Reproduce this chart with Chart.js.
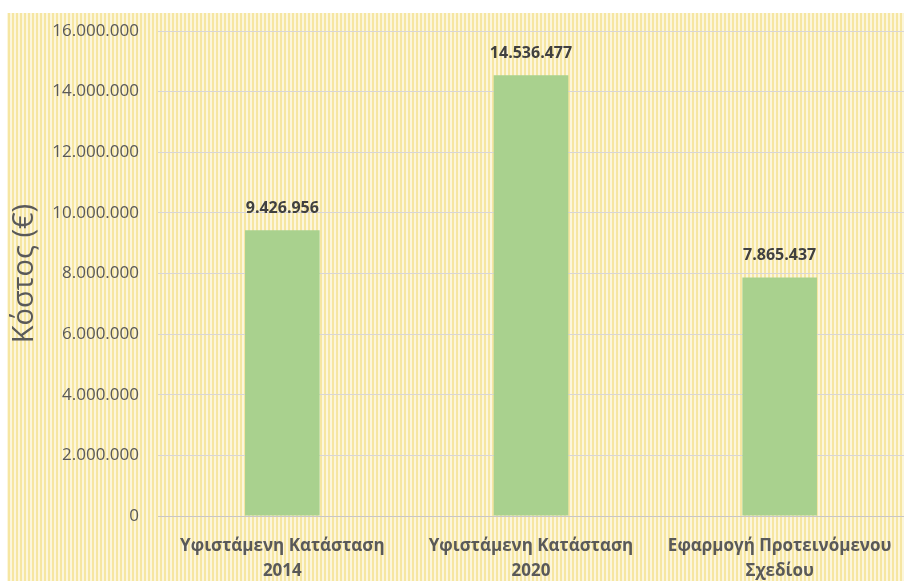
<!DOCTYPE html>
<html>
<head>
<meta charset="utf-8">
<script src="https://cdn.jsdelivr.net/npm/chart.js@4"></script>
<style>
  body { margin: 0; background: #fff; }
  canvas { display: block; }
</style>
</head>
<body>
<canvas id="costChart" width="904" height="581"></canvas>
<script>
// Categories (two-line labels) and values
const categories = [
    ['Υφιστάμενη Κατάσταση', '2014'],
    ['Υφιστάμενη Κατάσταση', '2020'],
    ['Εφαρμογή Προτεινόμενου', 'Σχεδίου']
];
const costValues = [9426956, 14536477, 7865437];
const yTicks = [0, 2000000, 4000000, 6000000, 8000000, 10000000, 12000000, 14000000, 16000000];

const fontFamily = '"Open Sans", Lato, sans-serif';

// Greek style thousands separator (dots)
function formatNumber(v) {
    return String(Math.round(v)).replace(/\B(?=(\d{3})+(?!\d))/g, '.');
}

// Striped yellow background like the original
function makeStripes(ctx) {
    const tile = document.createElement('canvas');
    tile.width = 4;
    tile.height = 4;
    const t = tile.getContext('2d');
    t.fillStyle = '#fcf6dc';
    t.fillRect(0, 0, 4, 4);
    t.fillStyle = '#f6e6a2';
    t.fillRect(0, 0, 2, 4);
    return ctx.createPattern(tile, 'repeat');
}

const backgroundPlugin = {
    id: 'stripes',
    beforeDraw(chart) {
        const ctx = chart.ctx;
        ctx.save();
        ctx.fillStyle = '#ffffff';
        ctx.fillRect(0, 0, chart.width, chart.height);
        ctx.fillStyle = makeStripes(ctx);
        ctx.fillRect(7, 13, chart.width - 7, chart.height - 13);
        ctx.restore();
    }
};

// Value labels above each bar
const valueLabels = {
    id: 'valueLabels',
    afterDatasetsDraw(chart) {
        const ctx = chart.ctx;
        const meta = chart.getDatasetMeta(0);
        ctx.save();
        ctx.font = 'bold 16px ' + fontFamily;
        ctx.fillStyle = '#404040';
        ctx.textAlign = 'center';
        ctx.textBaseline = 'middle';
        meta.data.forEach((bar, i) => {
            ctx.fillText(formatNumber(costValues[i]), bar.x, bar.y - 22);
        });
        ctx.restore();
    }
};

new Chart(document.getElementById('costChart'), {
    type: 'bar',
    data: {
        labels: categories,
        datasets: [{
            data: costValues,
            backgroundColor: '#a9d18e',
            barPercentage: 0.3,
            categoryPercentage: 1
        }]
    },
    options: {
        responsive: false,
        animation: false,
        layout: { padding: { top: 31, right: 0, left: 0, bottom: 0 } },
        plugins: {
            legend: { display: false },
            tooltip: { enabled: false }
        },
        scales: {
            x: {
                grid: { display: false, drawTicks: false },
                border: { color: '#c9c6c6', width: 1 },
                ticks: {
                    color: '#595959',
                    font: { family: fontFamily, size: 17, weight: 'bold', lineHeight: 1.45 },
                    padding: 18,
                    maxRotation: 0,
                    autoSkip: false
                },
                afterFit(scale) {
                    scale.height = 65;
                    scale.paddingLeft = 0;
                    scale.paddingRight = 0;
                }
            },
            y: {
                min: 0,
                max: 16000000,
                afterBuildTicks(scale) {
                    scale.ticks = yTicks.map(v => ({ value: v }));
                },
                grid: { color: '#d9d6d6', drawTicks: false },
                border: { display: false },
                ticks: {
                    color: '#595959',
                    font: { family: fontFamily, size: 17 },
                    padding: 19,
                    callback: v => formatNumber(v)
                },
                title: {
                    display: true,
                    text: 'Κόστος (€)',
                    color: '#595959',
                    font: { family: fontFamily, size: 29 },
                    padding: { top: 7, bottom: 0 }
                },
                afterFit(scale) { scale.width = 158; }
            }
        }
    },
    plugins: [backgroundPlugin, valueLabels]
});
</script>
</body>
</html>
